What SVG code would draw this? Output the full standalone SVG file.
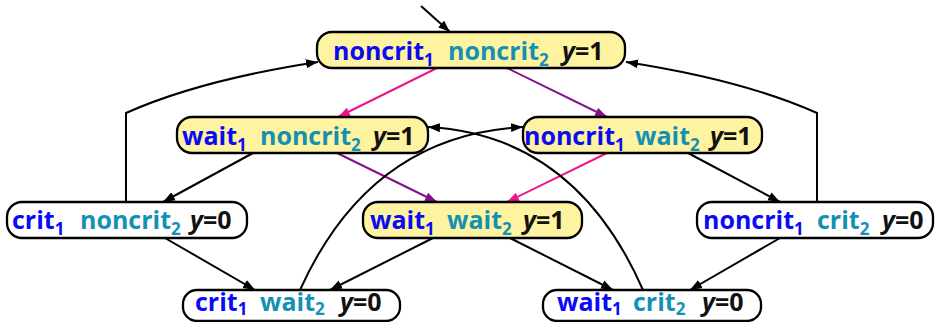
<svg xmlns="http://www.w3.org/2000/svg" width="938" height="322" viewBox="0 0 938 322">
<style>
.n rect{stroke:#000;stroke-width:2.3}
.y rect{fill:#fdf3a0}
.w rect{fill:#fff}
text{font-family:"Open Sans","DejaVu Sans",sans-serif;font-weight:bold;font-size:25px}
.b{fill:#0a0af5}
.c{fill:#1590b5}
.k{fill:#111}
.s{font-size:17px}
.i{font-style:italic}
.e path{fill:none;stroke:#000;stroke-width:2}
.e path.p{stroke:#f0148c}
.e path.v{stroke:#86108a}
</style>
<defs>
<marker id="ak" markerWidth="14" markerHeight="12" refX="12" refY="6" orient="auto" markerUnits="userSpaceOnUse"><path d="M0,1.5 L12,6 L0,10.5 Z" fill="#000"/></marker>
<marker id="ap" markerWidth="14" markerHeight="12" refX="12" refY="6" orient="auto" markerUnits="userSpaceOnUse"><path d="M0,1.5 L12,6 L0,10.5 Z" fill="#f0148c"/></marker>
<marker id="av" markerWidth="14" markerHeight="12" refX="12" refY="6" orient="auto" markerUnits="userSpaceOnUse"><path d="M0,1.5 L12,6 L0,10.5 Z" fill="#86108a"/></marker>
</defs>
<g class="e" id="connectors">
<path d="M421,6 L450,32" marker-end="url(#ak)"/>
<path d="M126,202 L126,113 Q200,80 318,62" marker-end="url(#ak)"/>
<path d="M817,202 L817,113 Q743,80 626,62" marker-end="url(#ak)"/>
<path class="p" d="M437,68 L338,117" marker-end="url(#ap)"/>
<path class="v" d="M507,68 L607,117" marker-end="url(#av)"/>
<path class="v" d="M337,153 L437,202" marker-end="url(#av)"/>
<path class="p" d="M607,153 L507,202" marker-end="url(#ap)"/>
<path d="M253,153 L163,202" marker-end="url(#ak)"/>
<path d="M688,153 L780,202" marker-end="url(#ak)"/>
<path d="M165,238 L255,290" marker-end="url(#ak)"/>
<path d="M433,238 L330,290" marker-end="url(#ak)"/>
<path d="M510,238 L613,290" marker-end="url(#ak)"/>
<path d="M780,238 L690,290" marker-end="url(#ak)"/>
<path d="M300,290 Q370,135 523,127" marker-end="url(#ak)"/>
<path d="M643,290 Q575,135 428,127" marker-end="url(#ak)"/>
</g>
<g id="n1" class="n y"><rect x="317" y="32" width="308" height="36" rx="15"/>
<text y="60"><tspan class="b" x="333">noncrit</tspan><tspan class="b s" dy="6">1</tspan><tspan class="c" x="448" dy="-6">noncrit</tspan><tspan class="c s" dy="6">2</tspan><tspan class="k i" x="562" dy="-6">y</tspan><tspan class="k">=1</tspan></text></g>
<g id="n2" class="n y"><rect x="177" y="117" width="251" height="36" rx="15"/>
<text y="145"><tspan class="b" x="182">wait</tspan><tspan class="b s" dy="6">1</tspan><tspan class="c" x="260" dy="-6">noncrit</tspan><tspan class="c s" dy="6">2</tspan><tspan class="k i" x="373" dy="-6">y</tspan><tspan class="k">=1</tspan></text></g>
<g id="n3" class="n y"><rect x="523" y="117" width="239" height="36" rx="15"/>
<text y="145"><tspan class="b" x="524">noncrit</tspan><tspan class="b s" dy="6">1</tspan><tspan class="c" x="635" dy="-6">wait</tspan><tspan class="c s" dy="6">2</tspan><tspan class="k i" x="710" dy="-6">y</tspan><tspan class="k">=1</tspan></text></g>
<g id="n4" class="n w"><rect x="7" y="202" width="240" height="36" rx="15"/>
<text y="229"><tspan class="b" x="12">crit</tspan><tspan class="b s" dy="6">1</tspan><tspan class="c" x="80" dy="-6">noncrit</tspan><tspan class="c s" dy="6">2</tspan><tspan class="k i" x="190" dy="-6">y</tspan><tspan class="k">=0</tspan></text></g>
<g id="n5" class="n y"><rect x="363" y="202" width="219" height="36" rx="15"/>
<text y="229"><tspan class="b" x="370">wait</tspan><tspan class="b s" dy="6">1</tspan><tspan class="c" x="447" dy="-6">wait</tspan><tspan class="c s" dy="6">2</tspan><tspan class="k i" x="523" dy="-6">y</tspan><tspan class="k">=1</tspan></text></g>
<g id="n6" class="n w"><rect x="697" y="202" width="236" height="36" rx="15"/>
<text y="229"><tspan class="b" x="703">noncrit</tspan><tspan class="b s" dy="6">1</tspan><tspan class="c" x="817" dy="-6">crit</tspan><tspan class="c s" dy="6">2</tspan><tspan class="k i" x="882" dy="-6">y</tspan><tspan class="k">=0</tspan></text></g>
<g id="n7" class="n w"><rect x="183" y="290" width="217" height="31" rx="14"/>
<text y="311"><tspan class="b" x="195">crit</tspan><tspan class="b s" dy="4">1</tspan><tspan class="c" x="260" dy="-4">wait</tspan><tspan class="c s" dy="4">2</tspan><tspan class="k i" x="340" dy="-4">y</tspan><tspan class="k">=0</tspan></text></g>
<g id="n8" class="n w"><rect x="543" y="290" width="218" height="31" rx="14"/>
<text y="311"><tspan class="b" x="557">wait</tspan><tspan class="b s" dy="4">1</tspan><tspan class="c" x="633" dy="-4">crit</tspan><tspan class="c s" dy="4">2</tspan><tspan class="k i" x="702" dy="-4">y</tspan><tspan class="k">=0</tspan></text></g>
</svg>
